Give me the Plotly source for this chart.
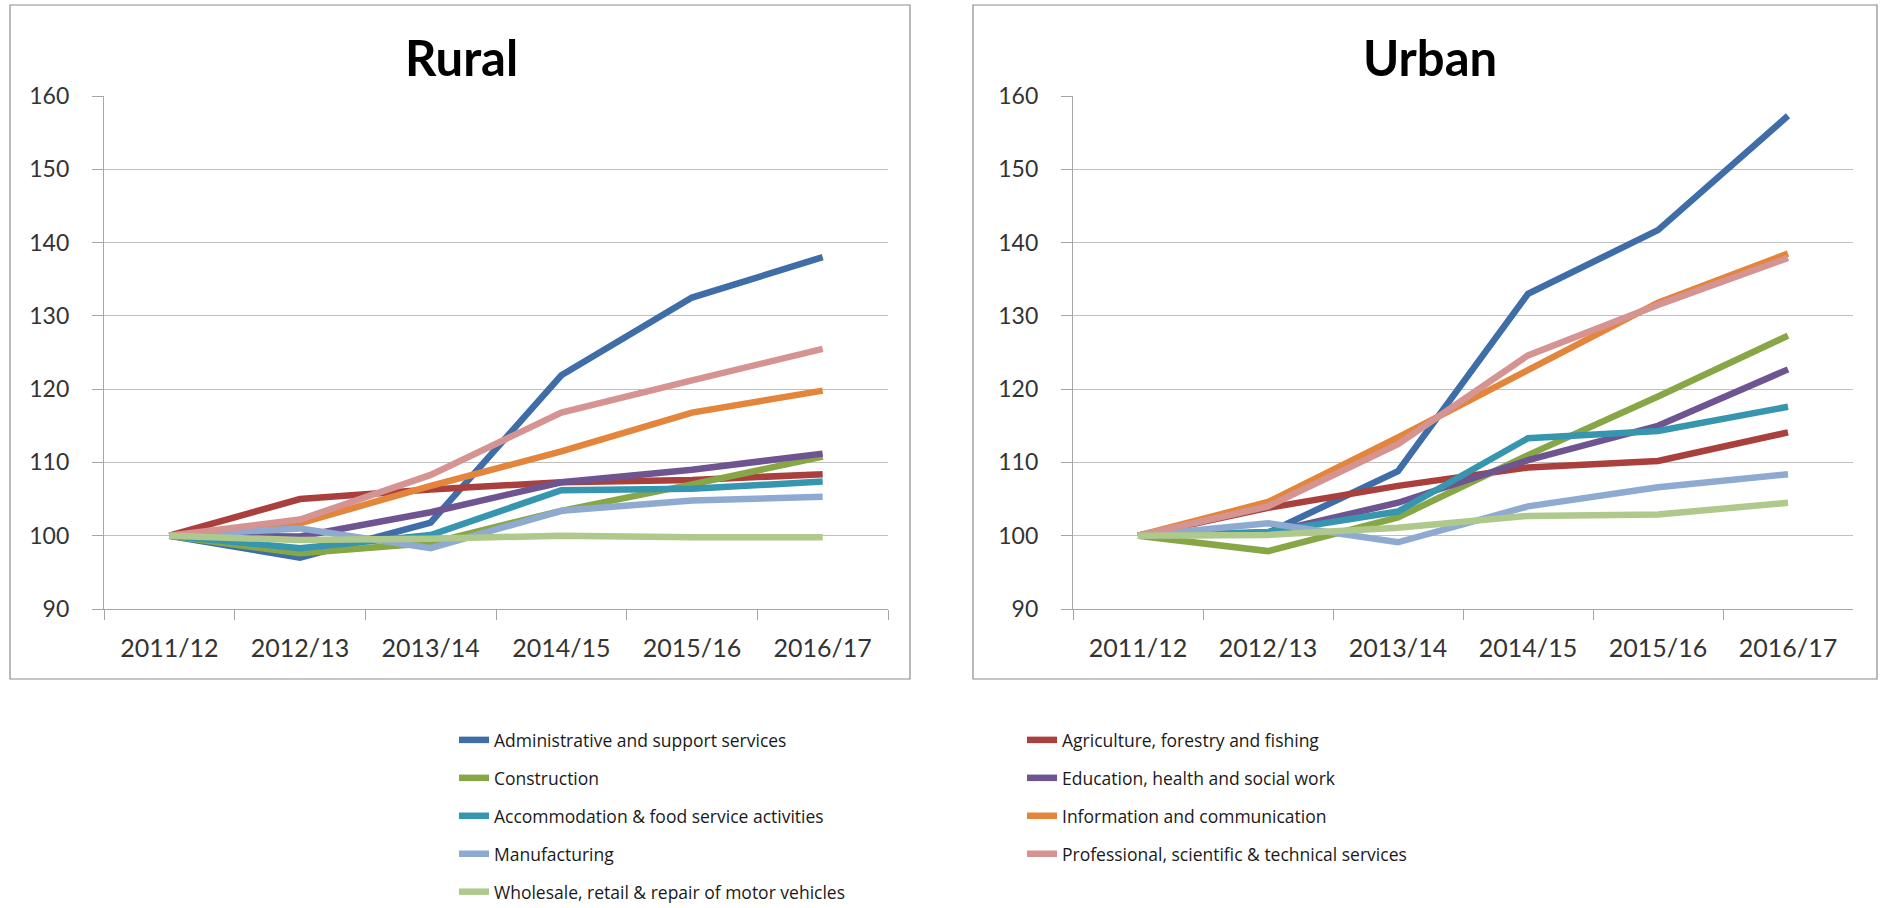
import plotly.graph_objects as go

categories = ["2011/12", "2012/13", "2013/14", "2014/15", "2015/16", "2016/17"]

series_names = [
    "Administrative and support services",
    "Agriculture, forestry and fishing",
    "Construction",
    "Education, health and social work",
    "Accommodation & food service activities",
    "Information and communication",
    "Manufacturing",
    "Professional, scientific & technical services",
    "Wholesale, retail & repair of motor vehicles",
]

series_colors = ["#3E6DA8", "#AA403E", "#87A646", "#6E5491", "#3796AF",
                 "#E3853A", "#8FAAD1", "#D59392", "#AFC88B"]

# Rural values (index, 2011/12 = 100)
rural_admin = [100, 97.0, 101.8, 121.9, 132.5, 138.0]
rural_agri = [100, 105.0, 106.3, 107.3, 107.6, 108.4]
rural_constr = [100, 97.6, 99.0, 103.4, 107.0, 110.8]
rural_edu = [100, 99.9, 103.2, 107.3, 109.0, 111.2]
rural_accom = [100, 98.3, 100.1, 106.2, 106.4, 107.4]
rural_info = [100, 101.7, 106.8, 111.5, 116.8, 119.8]
rural_manuf = [100, 101.0, 98.3, 103.4, 104.8, 105.3]
rural_prof = [100, 102.2, 108.3, 116.8, 121.2, 125.5]
rural_whole = [100, 99.4, 99.6, 100.0, 99.8, 99.8]

# Urban values (index, 2011/12 = 100)
urban_admin = [100, 100.4, 108.8, 133.0, 141.7, 157.3]
urban_agri = [100, 103.8, 106.8, 109.3, 110.2, 114.1]
urban_constr = [100, 97.9, 102.5, 111.0, 119.0, 127.3]
urban_edu = [100, 100.4, 104.5, 110.3, 115.0, 122.7]
urban_accom = [100, 100.5, 103.3, 113.3, 114.3, 117.6]
urban_info = [100, 104.6, 113.4, 122.5, 131.8, 138.5]
urban_manuf = [100, 101.7, 99.1, 104.0, 106.6, 108.4]
urban_prof = [100, 104.0, 112.5, 124.6, 131.5, 137.9]
urban_whole = [100, 100.1, 101.1, 102.7, 102.9, 104.5]

rural = [rural_admin, rural_agri, rural_constr, rural_edu, rural_accom,
         rural_info, rural_manuf, rural_prof, rural_whole]
urban = [urban_admin, urban_agri, urban_constr, urban_edu, urban_accom,
         urban_info, urban_manuf, urban_prof, urban_whole]

panel_titles = ["Rural", "Urban"]

W, H = 1884, 908
FONT = "Lato, 'Open Sans', sans-serif"
LEGEND_FONT = "'Open Sans', Lato, sans-serif"
LW = 6.5

fig = go.Figure()

for i, name in enumerate(series_names):
    legend_id = "legend" if i % 2 == 0 else "legend2"
    fig.add_trace(go.Scatter(
        x=categories, y=rural[i], mode="lines", name=name,
        line=dict(color=series_colors[i], width=LW),
        xaxis="x", yaxis="y", legendgroup=name, legend=legend_id,
        showlegend=True))
for i, name in enumerate(series_names):
    fig.add_trace(go.Scatter(
        x=categories, y=urban[i], mode="lines", name=name,
        line=dict(color=series_colors[i], width=LW),
        xaxis="x2", yaxis="y2", legendgroup=name, showlegend=False))


def fx(v):
    return v / W


def fy(v):
    return 1 - v / H


y_top, y_bot = 96, 609
left_dom = [fx(104), fx(888)]
right_dom = [fx(1073), fx(1853)]

axis_common = dict(
    showline=True, linecolor="#A6A6A6", linewidth=1.2,
    tickcolor="#A6A6A6", tickwidth=1.2, ticks="outside",
)
xcommon = dict(axis_common, type="category", range=[-0.5, 5.5],
               tickson="boundaries", showgrid=False, ticklen=10,
               ticklabelstandoff=17, fixedrange=True,
               tickfont=dict(family=FONT, size=25, color="#333333"))
ycommon = dict(axis_common, range=[90, 160], dtick=10, tick0=90,
               showgrid=True, gridcolor="#BFBFBF", gridwidth=1.2,
               zeroline=False, ticklen=11, ticklabelstandoff=18,
               fixedrange=True,
               tickfont=dict(family=FONT, size=23, color="#333333"))

legend_common = dict(xanchor="left", yanchor="top", orientation="v",
                     tracegroupgap=12.2, bgcolor="rgba(0,0,0,0)",
                     font=dict(family=LEGEND_FONT, size=17.5, color="#1A1A1A"))

fig.update_layout(
    width=W, height=H,
    margin=dict(l=0, r=0, t=0, b=0, autoexpand=False),
    paper_bgcolor="white", plot_bgcolor="white",
    xaxis=dict(xcommon, domain=left_dom, anchor="y"),
    yaxis=dict(ycommon, domain=[fy(y_bot), fy(y_top)], anchor="x"),
    xaxis2=dict(xcommon, domain=right_dom, anchor="y2"),
    yaxis2=dict(ycommon, domain=[fy(y_bot), fy(y_top)], anchor="x2"),
    legend=dict(legend_common, x=fx(454), y=fy(722)),
    legend2=dict(legend_common, x=fx(1022), y=fy(722)),
    showlegend=True,
)

# panel frames
fig.add_shape(type="rect", xref="paper", yref="paper",
              x0=fx(10), x1=fx(910), y0=fy(679), y1=fy(5),
              line=dict(color="#8C8C8C", width=1.2), fillcolor="rgba(0,0,0,0)")
fig.add_shape(type="rect", xref="paper", yref="paper",
              x0=fx(973), x1=fx(1877), y0=fy(679), y1=fy(5),
              line=dict(color="#8C8C8C", width=1.2), fillcolor="rgba(0,0,0,0)")

for title, cx in zip(panel_titles, [461, 1430]):
    fig.add_annotation(text="<b>" + title + "</b>", xref="paper", yref="paper",
                       x=fx(cx), y=fy(57), xanchor="center", yanchor="middle",
                       showarrow=False,
                       font=dict(family=FONT, size=49, color="#000000"))

fig.write_html("out.html", config={"displayModeBar": False},
               post_script="document.body.style.margin='0';")
